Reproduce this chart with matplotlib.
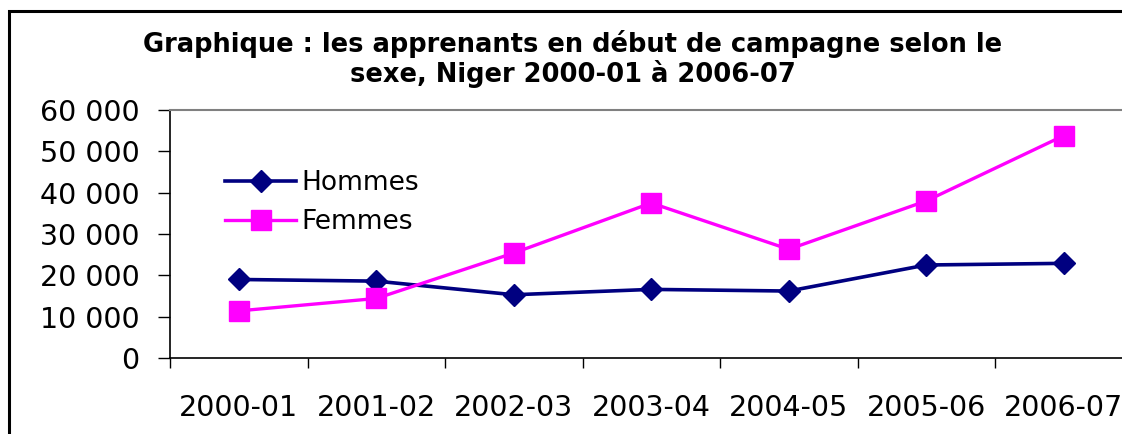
import matplotlib
matplotlib.use("Agg")
import matplotlib.pyplot as plt
from matplotlib.patches import Rectangle
from matplotlib.ticker import FuncFormatter, FixedLocator

categories = ["2000-01", "2001-02", "2002-03", "2003-04", "2004-05", "2005-06", "2006-07"]
hommes = [19000, 18600, 15300, 16600, 16200, 22500, 22900]
femmes = [11400, 14400, 25400, 37500, 26300, 38000, 53800]
yticks = [0, 10000, 20000, 30000, 40000, 50000, 60000]
title = "Graphique : les apprenants en début de campagne selon le\nsexe, Niger 2000-01 à 2006-07"

plt.rcParams['font.family'] = ['DejaVu Sans']

W, H = 1122, 434
fig = plt.figure(figsize=(W / 100, H / 100), dpi=100)

# chart frame (extends past right/bottom edges)
fig.patches.append(Rectangle((9 / W, -0.2), 1.2, 1.2 - 11 / H, transform=fig.transFigure,
                             fill=False, edgecolor='black', linewidth=2.2))

ax = fig.add_axes([170 / W, 1 - 358 / H, (1132.5 - 170) / W, (358 - 110) / H])
x = list(range(len(categories)))
ax.plot(x, hommes, color='#000080', lw=2.6, marker='D', ms=11, label='Hommes', clip_on=False)
ax.plot(x, femmes, color='#FF00FF', lw=2.4, marker='s', ms=14, label='Femmes', clip_on=False)

ax.set_xlim(-0.5, len(categories) - 0.5)
ax.set_ylim(0, 60000)
ax.set_yticks(yticks)
ax.yaxis.set_major_formatter(FuncFormatter(lambda v, p: f"{int(v):,}".replace(",", " ")))
ax.set_xticks(x)
ax.set_xticklabels(categories)
ax.xaxis.set_minor_locator(FixedLocator([i - 0.5 for i in range(len(categories) + 1)]))

ax.tick_params(axis='y', direction='out', length=9, width=1, labelsize=20.5, pad=13, colors='black')
ax.tick_params(axis='x', which='major', length=0, labelsize=20.5, pad=26)
ax.tick_params(axis='x', which='minor', direction='out', length=7, width=1)

for s in ['left', 'bottom']:
    ax.spines[s].set_color('black')
    ax.spines[s].set_linewidth(1.2)
ax.spines['top'].set_color('#808080')
ax.spines['top'].set_linewidth(1.5)
ax.spines['right'].set_visible(False)

leg = ax.legend(loc='upper left', bbox_to_anchor=(55 / 962.5, 1 - 60 / 248), frameon=False,
                fontsize=19, handlelength=2.7, handletextpad=0.2, labelspacing=0.5,
                borderaxespad=0, borderpad=0)

fig.text(573 / W, 1 - 30 / H, title, ha='center', va='top', fontsize=18.5, fontweight='bold',
         linespacing=1.1, multialignment='center')

fig.savefig('out.png', dpi=100)
